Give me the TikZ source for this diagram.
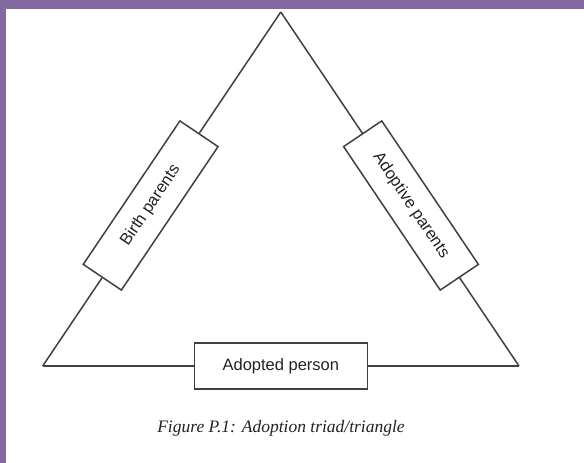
\documentclass[tikz,border=0pt]{standalone}
\usepackage{fontspec}
\setmainfont{Liberation Serif}
\newfontfamily\labelfont{Liberation Sans}
\usetikzlibrary{calc}

\definecolor{frame}{HTML}{8468A1}
\definecolor{ink}{HTML}{404040}
\definecolor{txt}{HTML}{222222}

\tikzset{
  edge/.style={draw=ink, line width=1.5pt},
  rolebox/.style={draw=ink, line width=1.5pt, fill=white, rectangle,
    minimum width=173pt, minimum height=46pt, inner sep=0pt,
    text=txt, font=\labelfont\fontsize{16.5}{18}\selectfont},
  caption/.style={text=txt, anchor=base, inner sep=0pt,
    font=\itshape\fontsize{17.5}{20}\selectfont}
}

\begin{document}
\begin{tikzpicture}[x=1pt, y=-1pt]
  % page and coloured frame
  \useasboundingbox (0,0) rectangle (584,463);
  \fill[white] (0,0) rectangle (584,463);
  \fill[frame] (0,0) rectangle (584,9);
  \fill[frame] (0,0) rectangle (6,463);

  % corners of the triangle
  \coordinate (apex) at (280.8,12);
  \coordinate (bl) at (42.7,366);
  \coordinate (br) at (519,366);

  % the three members, set on the sides
  \node[rolebox, rotate=56.03] (birth) at ($(bl)!0.4534!(apex)$) {Birth parents};
  \node[rolebox, rotate=-56.03] (adoptive) at ($(br)!0.4534!(apex)$) {Adoptive parents};
  \node[rolebox] (adopted) at ($(bl)!0.5!(br)$) {Adopted person};

  % sides of the triangle
  \draw[edge] (apex) -- (birth);
  \draw[edge] (birth) -- (bl);
  \draw[edge] (bl) -- (adopted);
  \draw[edge] (adopted) -- (br);
  \draw[edge] (br) -- (adoptive);
  \draw[edge] (adoptive) -- (apex);

  % caption
  \node[caption] (cap) at (281,432) {Figure P.1: Adoption triad/triangle};
\end{tikzpicture}
\end{document}
